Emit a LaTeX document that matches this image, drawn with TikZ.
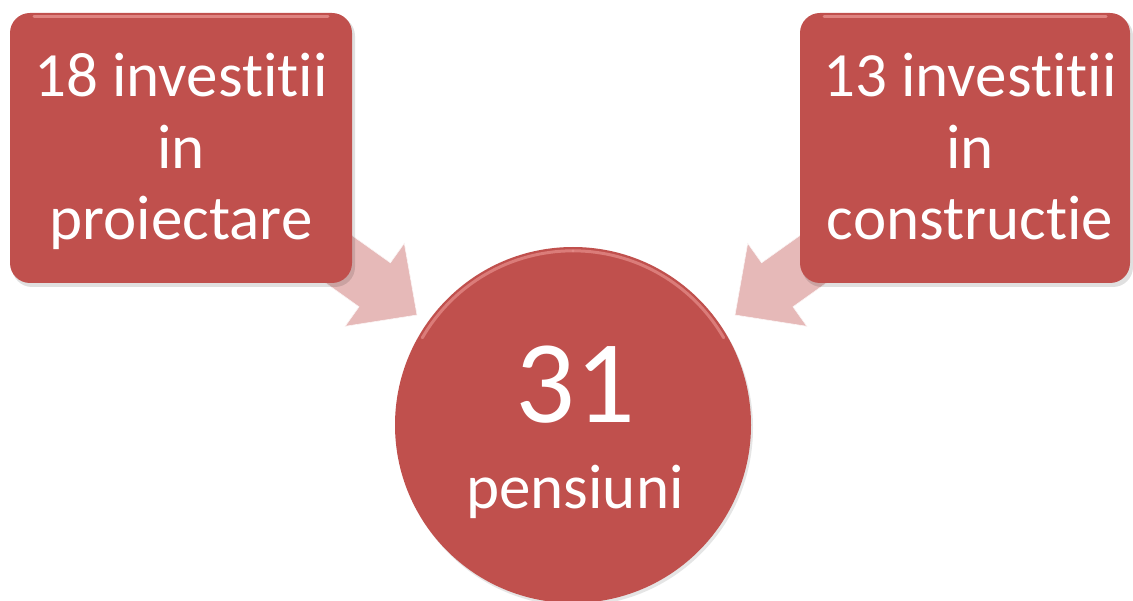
\documentclass[tikz,border=0pt]{standalone}
\usepackage{fontspec}
\setmainfont{Carlito}[Ligatures={NoCommon}]
\definecolor{boxred}{HTML}{C0504D}
\definecolor{arrowpink}{HTML}{E6B9B8}
\definecolor{hilite}{HTML}{E7908D}
\tikzset{
  redbox/.style={fill=boxred, draw=none, rounded corners=20pt},
  blockarrow/.style={fill=arrowpink, draw=white!85!arrowpink, line width=0.6pt, line join=miter},
  boxtext/.style={text=white, font=\fontsize{63}{71.5}\selectfont, align=center, anchor=base, inner sep=0pt},
  bigtext/.style={text=white, font=\fontsize{118}{120}\selectfont, anchor=base, inner sep=0pt},
  shade/.style={fill=black, opacity=0.12, rounded corners=20pt}
}
\begin{document}
\begin{tikzpicture}[x=1pt,y=-1pt]
\useasboundingbox (0,0) rectangle (1133,601);
\begin{scope}
\clip (0,0) rectangle (1133,601);
% block arrows (drawn first, behind the shapes)
\coordinate (lt) at (417,315);
\coordinate (rt) at (735,315);
\draw[blockarrow] (lt) -- (345.1,326.3) -- (359,306.8) -- (287.3,255.7) -- (318.7,211.7) -- (390.4,262.8) -- (404.3,243.3) -- cycle;
\draw[blockarrow] (rt) -- (806.9,326.3) -- (793,306.8) -- (864.7,255.7) -- (833.3,211.7) -- (761.6,262.8) -- (747.7,243.3) -- cycle;
% shadows
\fill[shade] (12,16) rectangle (355,287);
\fill[shade] (802,16) rectangle (1133,287);
\fill[black, opacity=0.10] (575,428) circle (178);
% boxes
\node[redbox, minimum width=342pt, minimum height=270pt, inner sep=0pt] (lbox) at (181,148) {};
\node[redbox, minimum width=330pt, minimum height=270pt, inner sep=0pt] (rbox) at (965,148) {};
\node[circle, fill=boxred, draw=none, minimum size=356pt, inner sep=0pt] (pens) at (573,425) {};
% glossy highlights
\draw[hilite, line width=3pt, opacity=0.8, line cap=round] (34,17) -- (328,17);
\draw[hilite, line width=3pt, opacity=0.8, line cap=round] (824,17) -- (1106,17);
\draw[hilite, line width=3pt, opacity=0.7, line cap=round] ([shift={(0,4)}]pens.north) arc[start angle=-90, end angle=-150, radius=174];
\draw[hilite, line width=3pt, opacity=0.7, line cap=round] ([shift={(0,4)}]pens.north) arc[start angle=-90, end angle=-30, radius=174];
% texts
\node[boxtext] (ltext) at (181,240) {18 investitii\\in\\proiectare};
\node[boxtext] (rtext) at (970,240) {13 investitii\\in\\constructie};
\node[bigtext] (num) at (575,423) {31};
\node[boxtext] (lab) at (575,508) {pensiuni};
\end{scope}
\end{tikzpicture}
\end{document}
